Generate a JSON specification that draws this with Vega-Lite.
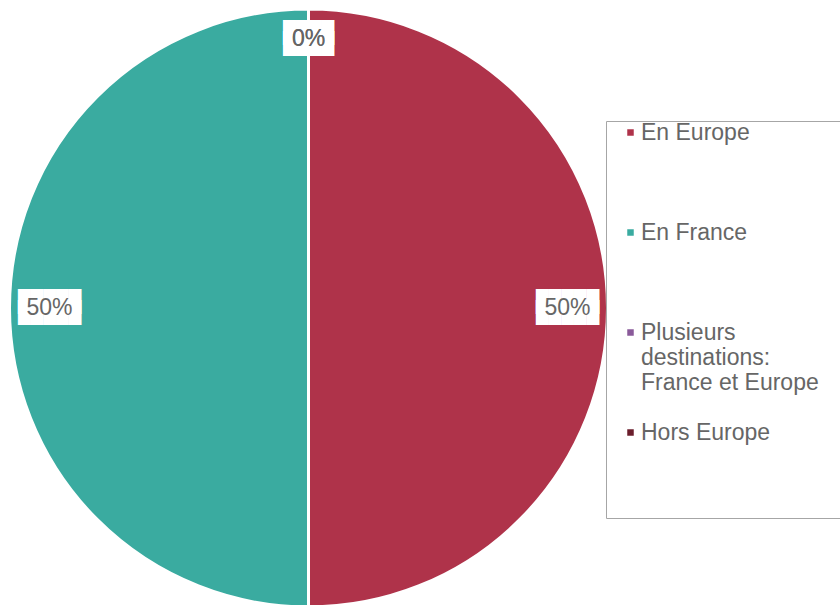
{
  "$schema": "https://vega.github.io/schema/vega-lite/v6.json",
  "width": 617,
  "height": 616,
  "autosize": "none",
  "padding": {"left": 0, "top": 0, "right": 223, "bottom": 0},
  "background": "white",
  "config": {"view": {"stroke": null}},
  "data": {
    "values": [
      {"destination": "En Europe", "pct": 0.5},
      {"destination": "En France", "pct": 0.5},
      {"destination": "Plusieurs destinations: France et Europe", "pct": 0},
      {"destination": "Hors Europe", "pct": 0}
    ]
  },
  "encoding": {
    "theta": {"field": "pct", "type": "quantitative", "stack": true},
    "order": {"field": "pct", "type": "quantitative", "sort": "descending"}
  },
  "layer": [
    {
      "mark": {"type": "arc", "outerRadius": 299, "stroke": "white", "strokeWidth": 3},
      "encoding": {
        "color": {
          "field": "destination",
          "type": "nominal",
          "sort": null,
          "scale": {
            "domain": ["En Europe", "En France", "Plusieurs destinations: France et Europe", "Hors Europe"],
            "range": ["#AF334A", "#3AABA0", "#8A5A9A", "#6B1E2C"]
          },
          "legend": {
            "title": " ",
            "titleOrient": "right",
            "titleAnchor": "start",
            "titleFontSize": 401,
            "titleBaseline": "top",
            "titlePadding": 40,
            "orient": "none",
            "legendX": 606,
            "legendY": 121,
            "strokeColor": "#A6A6A6",
            "padding": 0,
            "symbolType": "square",
            "symbolSize": 64,
            "symbolOffset": 13,
            "labelOffset": -1,
            "labelFont": "Liberation Sans",
            "labelFontSize": 23,
            "labelColor": "#666666",
            "labelLimit": 400,
            "gridAlign": "all",
            "rowPadding": 26,
            "labelExpr": "datum.label == 'Plusieurs destinations: France et Europe' ? ['Plusieurs', 'destinations:', 'France et Europe'] : datum.label",
            "encode": {"labels": {"enter": {"lineHeight": {"value": 29}}, "update": {"lineHeight": {"value": 29}}}}
          }
        }
      }
    },
    {
      "mark": {"type": "text", "font": "DejaVu Sans Mono", "fontSize": 21, "lineHeight": 11, "dy": -5.5, "fill": "white"},
      "encoding": {
        "radius": {"field": "pct", "type": "quantitative", "scale": {"type": "linear", "domain": [0, 0.5], "range": [269, 259], "zero": false}},
        "text": {"condition": {"test": "datum.pct == 0", "value": ["████", "████"]}, "value": ["█████", "█████"]}
      }
    },
    {
      "mark": {"type": "text", "font": "Liberation Sans", "fontSize": 23, "fill": "#666666"},
      "encoding": {
        "radius": {"field": "pct", "type": "quantitative", "scale": {"type": "linear", "domain": [0, 0.5], "range": [269, 259], "zero": false}},
        "text": {"field": "pct", "type": "quantitative", "format": ".0%"}
      }
    }
  ]
}
